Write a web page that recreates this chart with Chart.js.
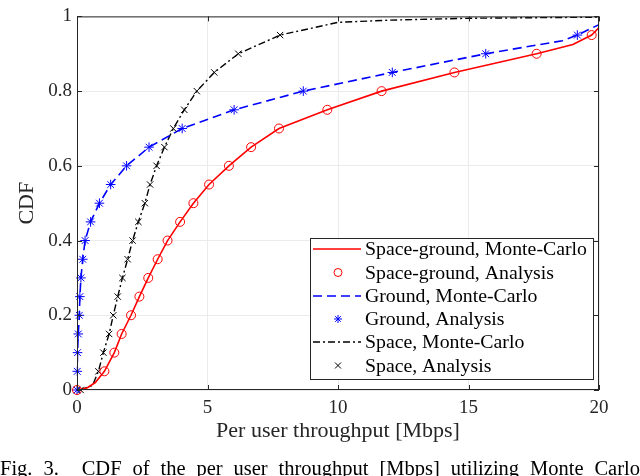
<!DOCTYPE html>
<html>
<head>
<meta charset="utf-8">
<script src="https://cdn.jsdelivr.net/npm/chart.js@4.4.1/dist/chart.umd.min.js"></script>
<style>
  html, body { margin: 0; padding: 0; background: #fff; overflow: hidden; }
  #wrap { position: relative; width: 640px; height: 476px; }
  #caption { position: absolute; left: 0; top: 457px; width: 640px; font-family: "Liberation Serif", serif; font-size: 20.5px; line-height: 22px; color: #000; text-align: justify; text-align-last: justify; white-space: nowrap; }
</style>
</head>
<body>
<div id="wrap">
  <canvas id="c" width="640" height="476"></canvas>
  <div id="caption">Fig. 3.<span style="display:inline-block;width:12px"></span> CDF of the per user throughput [Mbps] utilizing Monte Carlo</div>
</div>
<script>
// ---- data ----
const cdfLevels = [0, 0.05, 0.1, 0.15, 0.2, 0.25, 0.3, 0.35, 0.4, 0.45, 0.5, 0.55, 0.6, 0.65, 0.7, 0.75, 0.8, 0.85, 0.9, 0.95];

const spaceGroundAnalysisX = [0, 1.05, 1.43, 1.71, 2.07, 2.39, 2.73, 3.09, 3.47, 3.95, 4.46, 5.06, 5.82, 6.67, 7.74, 9.59, 11.67, 14.46, 17.61, 19.72];
const groundAnalysisX      = [0, 0.01, 0.02, 0.05, 0.09, 0.11, 0.15, 0.22, 0.31, 0.52, 0.86, 1.29, 1.9, 2.76, 4.03, 6.02, 8.67, 12.08, 15.66, 19.17];
const spaceAnalysisX       = [0.14, 0.82, 1.01, 1.23, 1.39, 1.56, 1.74, 1.94, 2.13, 2.35, 2.6, 2.8, 3.05, 3.35, 3.69, 4.11, 4.59, 5.26, 6.18, 7.78];

const spaceGroundMcX = [0, 0.4, 0.7, 1.05, 1.43, 1.71, 2.07, 2.39, 2.73, 3.09, 3.47, 3.95, 4.46, 5.06, 5.82, 6.67, 7.74, 9.59, 11.67, 14.46, 17.61, 19.0, 19.72, 20];
const spaceGroundMcY = [0, 0.006, 0.02, 0.05, 0.1, 0.15, 0.2, 0.25, 0.3, 0.35, 0.4, 0.45, 0.5, 0.55, 0.6, 0.65, 0.7, 0.75, 0.8, 0.85, 0.9, 0.925, 0.95, 0.97];

const groundMcX = [0, 0.01, 0.02, 0.05, 0.09, 0.11, 0.15, 0.22, 0.31, 0.52, 0.86, 1.29, 1.9, 2.76, 4.03, 6.02, 8.67, 12.08, 15.66, 18.6, 19.17, 20];
const groundMcY = [0, 0.05, 0.1, 0.15, 0.2, 0.25, 0.3, 0.35, 0.4, 0.45, 0.5, 0.55, 0.6, 0.65, 0.7, 0.75, 0.8, 0.85, 0.9, 0.935, 0.95, 0.978];

const spaceMcX = [0.14, 0.6, 0.82, 1.01, 1.23, 1.39, 1.56, 1.74, 1.94, 2.13, 2.35, 2.6, 2.8, 3.05, 3.35, 3.69, 4.11, 4.59, 5.26, 6.18, 7.78, 10, 12, 15, 20];
const spaceMcY = [0, 0.013, 0.05, 0.1, 0.15, 0.2, 0.25, 0.3, 0.35, 0.4, 0.45, 0.5, 0.55, 0.6, 0.65, 0.7, 0.75, 0.8, 0.85, 0.9, 0.95, 0.984, 0.99, 0.995, 0.998];

const xTicks = [0, 5, 10, 15, 20];
const yTicks = [0, 0.2, 0.4, 0.6, 0.8, 1];
const seriesNames = ['Space-ground, Monte-Carlo', 'Space-ground, Analysis', 'Ground, Monte-Carlo', 'Ground, Analysis', 'Space, Monte-Carlo', 'Space, Analysis'];

const pts = (xs, ys) => xs.map((x, i) => ({ x: x, y: ys[i] }));
const FONT = '"Liberation Serif", serif';
const AXIS = '#262626';

const datasets = [
  { label: seriesNames[0], data: pts(spaceGroundMcX, spaceGroundMcY), showLine: true, borderColor: '#ff0000', borderWidth: 1.6, pointRadius: 0, tension: 0, order: 3 },
  { label: seriesNames[1], data: pts(spaceGroundAnalysisX, cdfLevels), showLine: false, pointStyle: 'circle', pointRadius: 4.5, borderColor: '#ff0000', backgroundColor: 'rgba(0,0,0,0)', pointBorderWidth: 1, clip: 10, order: 2 },
  { label: seriesNames[2], data: pts(groundMcX, groundMcY), showLine: true, borderColor: '#0000ff', borderWidth: 1.6, borderDash: [9, 5], pointRadius: 0, tension: 0, order: 3 },
  { label: seriesNames[3], data: pts(groundAnalysisX, cdfLevels), showLine: false, pointStyle: 'star', pointRadius: 4.8, borderColor: '#0000ff', backgroundColor: '#0000ff', pointBorderWidth: 1, clip: 10, order: 2 },
  { label: seriesNames[4], data: pts(spaceMcX, spaceMcY), showLine: true, borderColor: '#000000', borderWidth: 1.4, borderDash: [7, 3, 2, 3], pointRadius: 0, tension: 0, order: 3 },
  { label: seriesNames[5], data: pts(spaceAnalysisX, cdfLevels), showLine: false, pointStyle: 'crossRot', pointRadius: 4.5, borderColor: '#000000', backgroundColor: '#000000', pointBorderWidth: 1, clip: 10, order: 2 }
];

const boxPlugin = {
  id: 'boxTicks',
  afterDraw(chart) {
    const ctx = chart.ctx, a = chart.chartArea;
    const xs = chart.scales.x, ys = chart.scales.y;
    ctx.save();
    ctx.strokeStyle = AXIS;
    ctx.lineWidth = 1;
    ctx.setLineDash([]);
    ctx.strokeRect(a.left + 0.5, a.top + 0.5, a.right - a.left - 1, a.bottom - a.top - 1);
    const L = 5;
    ctx.beginPath();
    xTicks.forEach(v => {
      const px = Math.round(xs.getPixelForValue(v)) + 0.5;
      ctx.moveTo(px, a.bottom); ctx.lineTo(px, a.bottom - L);
      ctx.moveTo(px, a.top); ctx.lineTo(px, a.top + L);
    });
    yTicks.forEach(v => {
      const py = Math.round(ys.getPixelForValue(v)) + 0.5;
      ctx.moveTo(a.left, py); ctx.lineTo(a.left + L, py);
      ctx.moveTo(a.right, py); ctx.lineTo(a.right - L, py);
    });
    ctx.stroke();

    // legend box inside the plot
    const bx = 310, by = 238, bw = 283, bh = 141;
    ctx.fillStyle = '#ffffff';
    ctx.fillRect(bx, by, bw, bh);
    ctx.strokeStyle = AXIS;
    ctx.lineWidth = 1;
    ctx.strokeRect(bx + 0.5, by + 0.5, bw, bh);
    const rows = [249, 272.5, 296, 319, 342, 365.5];
    const x0 = 313, x1 = 361, mx = 338, tx = 365;
    ctx.font = '19.8px ' + FONT;
    ctx.textBaseline = 'middle';
    ctx.textAlign = 'left';
    chart.data.datasets.forEach((ds, i) => {
      const y = rows[i];
      ctx.save();
      if (ds.showLine) {
        ctx.strokeStyle = ds.borderColor;
        ctx.lineWidth = ds.borderWidth;
        ctx.setLineDash(ds.borderDash || []);
        ctx.beginPath(); ctx.moveTo(x0, y); ctx.lineTo(x1, y); ctx.stroke();
      } else {
        ctx.strokeStyle = ds.borderColor;
        ctx.lineWidth = 1;
        ctx.setLineDash([]);
        const r = 4;
        ctx.beginPath();
        if (ds.pointStyle === 'circle') {
          ctx.arc(mx, y, r, 0, Math.PI * 2);
        } else if (ds.pointStyle === 'star') {
          ctx.moveTo(mx, y - r); ctx.lineTo(mx, y + r);
          ctx.moveTo(mx - r, y); ctx.lineTo(mx + r, y);
          const d = r * 0.707;
          ctx.moveTo(mx - d, y - d); ctx.lineTo(mx + d, y + d);
          ctx.moveTo(mx - d, y + d); ctx.lineTo(mx + d, y - d);
        } else {
          const d = 3;
          ctx.moveTo(mx - d, y - d); ctx.lineTo(mx + d, y + d);
          ctx.moveTo(mx - d, y + d); ctx.lineTo(mx + d, y - d);
        }
        ctx.stroke();
      }
      ctx.restore();
      ctx.fillStyle = '#000';
      ctx.fillText(ds.label, tx, y + 1);
    });
    ctx.restore();
  }
};

new Chart(document.getElementById('c'), {
  type: 'scatter',
  data: { datasets: datasets },
  options: {
    responsive: false,
    animation: false,
    devicePixelRatio: 1,
    layout: { padding: { left: 0, right: 41, top: 10, bottom: 32 } },
    plugins: { legend: { display: false }, tooltip: { enabled: false } },
    scales: {
      x: {
        type: 'linear', min: 0, max: 20,
        afterBuildTicks: s => { s.ticks = xTicks.map(v => ({ value: v })); },
        afterFit: s => { s.height = 54; },
        grid: { color: '#ebebeb', lineWidth: 1, drawTicks: false },
        border: { display: false },
        ticks: { color: AXIS, font: { family: FONT, size: 19 }, padding: 7, maxRotation: 0, callback: v => String(v) },
        title: { display: true, text: 'Per user throughput [Mbps]', color: AXIS, font: { family: FONT, size: 22 }, padding: { top: 0, bottom: 0 } }
      },
      y: {
        type: 'linear', min: 0, max: 1,
        afterBuildTicks: s => { s.ticks = yTicks.map(v => ({ value: v })); },
        afterFit: s => { s.width = 77; },
        grid: { color: '#ebebeb', lineWidth: 1, drawTicks: false },
        border: { display: false },
        ticks: { color: AXIS, font: { family: FONT, size: 19 }, padding: 5, callback: v => String(v) },
        title: { display: true, text: 'CDF', color: AXIS, font: { family: FONT, size: 22 }, padding: { top: 14, bottom: 0 } }
      }
    }
  },
  plugins: [boxPlugin]
});
</script>
</body>
</html>
